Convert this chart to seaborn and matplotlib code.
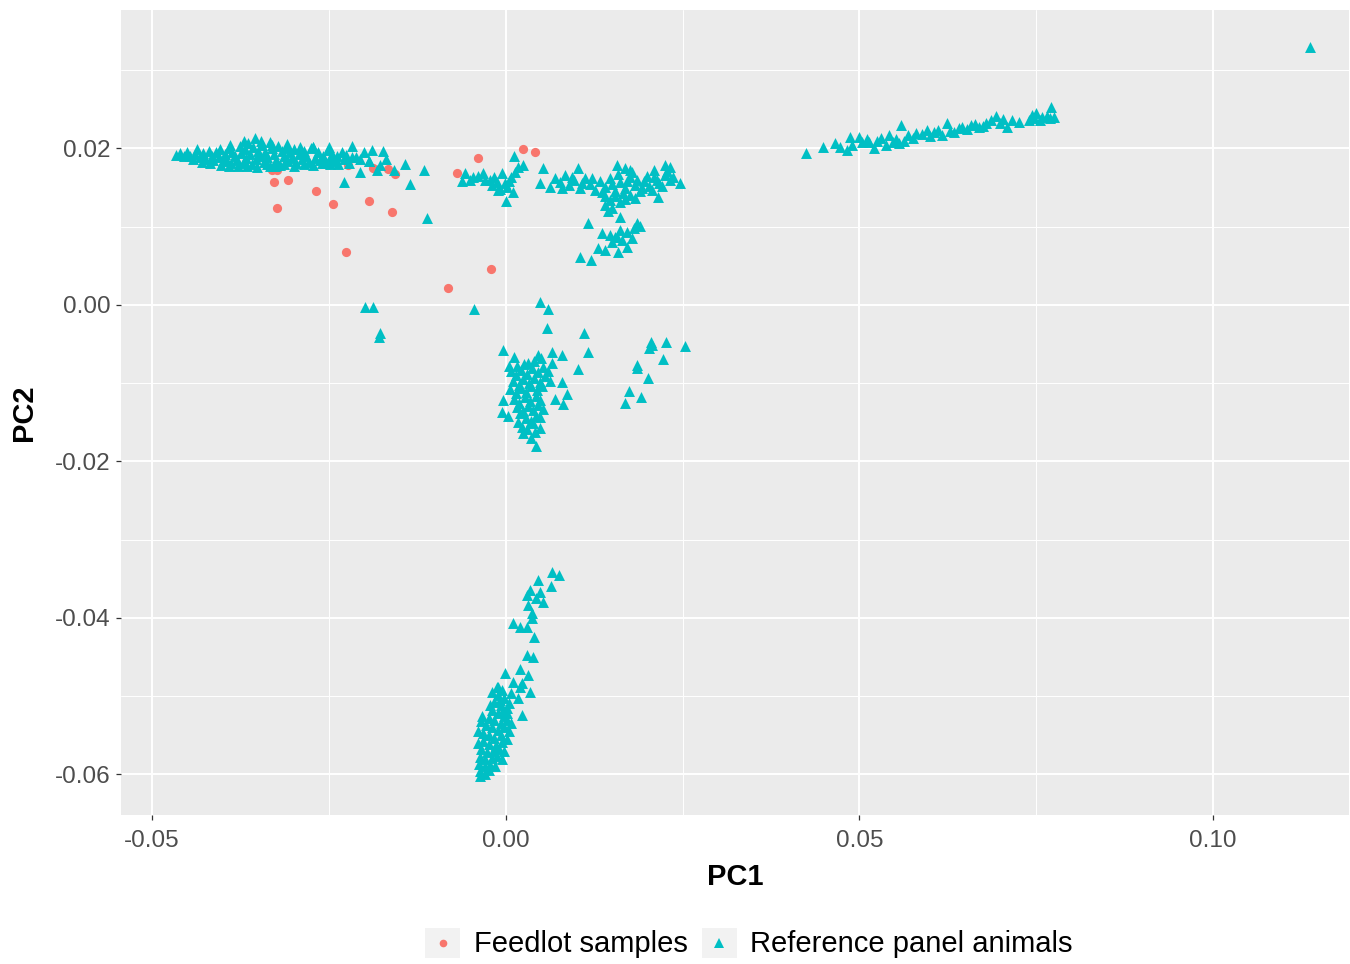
import matplotlib
matplotlib.use("Agg")
import matplotlib.pyplot as plt
import seaborn as sns
import pandas as pd
from matplotlib.lines import Line2D
from matplotlib.patches import Rectangle
from matplotlib.legend_handler import HandlerBase
from matplotlib.ticker import FixedLocator

# ---------------- data (PC1, PC2) ----------------
feedlot_pc1 = [-0.0331, -0.0323, -0.0328, -0.0308, -0.0268, -0.0323, -0.0244, -0.0226,
               -0.0223, -0.0194, -0.0188, -0.0167, -0.0161, -0.0157, -0.0069, -0.0040,
               0.0025, 0.0041, -0.0021, -0.0082]
feedlot_pc2 = [0.0173, 0.0173, 0.0157, 0.0160, 0.0146, 0.0124, 0.0129, 0.0068,
               0.0179, 0.0133, 0.0175, 0.0174, 0.0119, 0.0167, 0.0169, 0.0188,
               0.0199, 0.0196, 0.0046, 0.0022]

ref_west = [
    (-0.0466, 0.0192), (-0.0460, 0.0194), (-0.0455, 0.0190), (-0.0450, 0.0196), (-0.0446, 0.0191),
    (-0.0440, 0.0193), (-0.0436, 0.0199), (-0.0432, 0.0189), (-0.0428, 0.0194), (-0.0425, 0.0187),
    (-0.0420, 0.0197), (-0.0416, 0.0191), (-0.0414, 0.0185), (-0.0410, 0.0195), (-0.0406, 0.0189),
    (-0.0404, 0.0199), (-0.0400, 0.0184), (-0.0397, 0.0193), (-0.0395, 0.0187), (-0.0391, 0.0201),
    (-0.0389, 0.0182), (-0.0387, 0.0196), (-0.0383, 0.0190), (-0.0380, 0.0185), (-0.0376, 0.0203),
    (-0.0374, 0.0194), (-0.0371, 0.0182), (-0.0369, 0.0199), (-0.0367, 0.0188), (-0.0364, 0.0207),
    (-0.0362, 0.0193), (-0.0359, 0.0180), (-0.0357, 0.0202), (-0.0355, 0.0213), (-0.0353, 0.0186),
    (-0.0350, 0.0197), (-0.0348, 0.0191), (-0.0345, 0.0204), (-0.0342, 0.0183), (-0.0340, 0.0196),
    (-0.0337, 0.0189), (-0.0334, 0.0208), (-0.0333, 0.0178), (-0.0331, 0.0200), (-0.0328, 0.0193),
    (-0.0325, 0.0185), (-0.0322, 0.0203), (-0.0319, 0.0179), (-0.0317, 0.0197), (-0.0314, 0.0190),
    (-0.0311, 0.0201), (-0.0308, 0.0184), (-0.0305, 0.0195), (-0.0302, 0.0188), (-0.0299, 0.0199),
    (-0.0296, 0.0181), (-0.0293, 0.0193), (-0.0291, 0.0202), (-0.0288, 0.0187), (-0.0285, 0.0197),
    (-0.0282, 0.0191), (-0.0278, 0.0183), (-0.0275, 0.0200), (-0.0273, 0.0202), (-0.0270, 0.0188),
    (-0.0266, 0.0196), (-0.0262, 0.0185), (-0.0259, 0.0191), (-0.0256, 0.0181), (-0.0252, 0.0198),
    (-0.0249, 0.0188), (-0.0246, 0.0193), (-0.0242, 0.0184), (-0.0239, 0.0190), (-0.0237, 0.0180),
    (-0.0232, 0.0196), (-0.0229, 0.0186), (-0.0226, 0.0192), (-0.0222, 0.0182), (-0.0217, 0.0203),
    (-0.0212, 0.0189), (-0.0206, 0.0187), (-0.0200, 0.0195), (-0.0193, 0.0184), (-0.0189, 0.0198),
    (-0.0182, 0.0173), (-0.0178, 0.0179), (-0.0174, 0.0197), (-0.0170, 0.0186), (-0.0158, 0.0173),
    (-0.0143, 0.0180), (-0.0136, 0.0155), (-0.0116, 0.0173), (-0.0112, 0.0111), (-0.0229, 0.0157),
    (-0.0206, 0.0170), (-0.0193, 0.0184), (-0.0273, 0.0202), (-0.0217, 0.0189),
    (-0.0442, 0.0186), (-0.0430, 0.0183), (-0.0418, 0.0181), (-0.0402, 0.0179), (-0.0392, 0.0178),
    (-0.0378, 0.0177), (-0.0366, 0.0178), (-0.0352, 0.0176), (-0.0338, 0.0180), (-0.0326, 0.0177),
    (-0.0314, 0.0180), (-0.0300, 0.0178), (-0.0286, 0.0180), (-0.0272, 0.0179), (-0.0260, 0.0182),
    (-0.0248, 0.0180), (-0.0390, 0.0204), (-0.0370, 0.0210), (-0.0346, 0.0209), (-0.0330, 0.0205),
    (-0.0310, 0.0206), (-0.0250, 0.0202),
    (-0.0199, -0.0003), (-0.0188, -0.0003), (-0.0178, -0.0036), (-0.0179, -0.0041),
]

ref_centre = [
    (-0.0062, 0.0158), (-0.0058, 0.0169), (-0.0047, 0.0164), (-0.0032, 0.0169), (-0.0023, 0.0160),
    (-0.0016, 0.0164), (-0.0011, 0.0147), (0.0001, 0.0151), (0.0008, 0.0164), (0.0011, 0.0190),
    (0.0017, 0.0176), (0.0024, 0.0179), (0.0010, 0.0144), (0.0000, 0.0133), (-0.0040, 0.0165),
    (-0.0030, 0.0160), (-0.0008, 0.0148), (-0.0001, 0.0156), (0.0004, 0.0158), (-0.0051, 0.0160),
    (-0.0006, 0.0169), (0.0013, 0.0170), (-0.0020, 0.0153), (-0.0013, 0.0157), (-0.0045, -0.0005),
]

ref_east = [
    (0.0052, 0.0175), (0.0102, 0.0175), (0.0048, 0.0156), (0.0062, 0.0151), (0.0246, 0.0156),
    (0.0215, 0.0138), (0.0116, 0.0105), (0.0161, 0.0112),
    (0.0069, 0.0162), (0.0076, 0.0157), (0.0083, 0.0166), (0.0090, 0.0153), (0.0097, 0.0160),
    (0.0105, 0.0150), (0.0112, 0.0162), (0.0119, 0.0155), (0.0126, 0.0147), (0.0133, 0.0158),
    (0.0140, 0.0151), (0.0147, 0.0162), (0.0154, 0.0145), (0.0161, 0.0157), (0.0168, 0.0150),
    (0.0175, 0.0164), (0.0182, 0.0153), (0.0189, 0.0146), (0.0196, 0.0159), (0.0203, 0.0152),
    (0.0210, 0.0163), (0.0217, 0.0156), (0.0225, 0.0166), (0.0232, 0.0160),
    (0.0080, 0.0150), (0.0094, 0.0164), (0.0108, 0.0156), (0.0122, 0.0162), (0.0136, 0.0144),
    (0.0150, 0.0155), (0.0158, 0.0168), (0.0165, 0.0143), (0.0172, 0.0158), (0.0179, 0.0170),
    (0.0186, 0.0160), (0.0193, 0.0150), (0.0200, 0.0165), (0.0207, 0.0147), (0.0214, 0.0160),
    (0.0221, 0.0152), (0.0228, 0.0171), (0.0236, 0.0164),
    (0.0157, 0.0179), (0.0168, 0.0175), (0.0175, 0.0172), (0.0210, 0.0173), (0.0225, 0.0179),
    (0.0232, 0.0176),
    (0.0140, 0.0139), (0.0147, 0.0134), (0.0154, 0.0139), (0.0161, 0.0131), (0.0168, 0.0136),
    (0.0140, 0.0128), (0.0150, 0.0124), (0.0175, 0.0140), (0.0182, 0.0137), (0.0145, 0.0120),
    (0.0136, 0.0092), (0.0147, 0.0089), (0.0157, 0.0087), (0.0171, 0.0093), (0.0185, 0.0105),
    (0.0179, 0.0086), (0.0171, 0.0074), (0.0158, 0.0068), (0.0140, 0.0070), (0.0105, 0.0061),
    (0.0121, 0.0058), (0.0154, 0.0087), (0.0161, 0.0096), (0.0164, 0.0083), (0.0150, 0.0081),
    (0.0181, 0.0098), (0.0189, 0.0101), (0.0130, 0.0073),
]

ref_south = [
    (0.0049, 0.0004), (0.0059, -0.0005), (0.0058, -0.0029), (0.0110, -0.0036), (0.0116, -0.0060),
    (0.0102, -0.0082), (-0.0004, -0.0058), (0.0011, -0.0066), (0.0004, -0.0078), (0.0016, -0.0078),
    (0.0032, -0.0074), (0.0045, -0.0064), (0.0065, -0.0060), (0.0079, -0.0064), (0.0066, -0.0074),
    (0.0079, -0.0098), (0.0086, -0.0114), (0.0069, -0.0120), (0.0081, -0.0127), (-0.0004, -0.0121),
    (-0.0006, -0.0137), (0.0003, -0.0142), (0.0020, -0.0138), (0.0048, -0.0143), (0.0023, -0.0156),
    (0.0038, -0.0151), (0.0048, -0.0157), (0.0024, -0.0164), (0.0035, -0.0170), (0.0042, -0.0180),
    (0.0008, -0.0085), (0.0015, -0.0090), (0.0022, -0.0083), (0.0030, -0.0088), (0.0037, -0.0080),
    (0.0045, -0.0086), (0.0052, -0.0079), (0.0010, -0.0097), (0.0018, -0.0102), (0.0025, -0.0095),
    (0.0033, -0.0100), (0.0040, -0.0093), (0.0048, -0.0098), (0.0055, -0.0091), (0.0006, -0.0108),
    (0.0014, -0.0113), (0.0021, -0.0106), (0.0029, -0.0111), (0.0036, -0.0104), (0.0044, -0.0109),
    (0.0051, -0.0103), (0.0012, -0.0120), (0.0019, -0.0125), (0.0027, -0.0118), (0.0034, -0.0123),
    (0.0042, -0.0116), (0.0049, -0.0121), (0.0016, -0.0131), (0.0024, -0.0136), (0.0031, -0.0129),
    (0.0038, -0.0134), (0.0045, -0.0128), (0.0053, -0.0133), (0.0028, -0.0145), (0.0035, -0.0148),
    (0.0043, -0.0142), (0.0017, -0.0150), (0.0030, -0.0158), (0.0041, -0.0162), (0.0059, -0.0085),
    (0.0062, -0.0097), (0.0026, -0.0076), (0.0040, -0.0072), (0.0050, -0.0068),
    (0.0205, -0.0047), (0.0226, -0.0047), (0.0253, -0.0052), (0.0203, -0.0055), (0.0222, -0.0069),
    (0.0185, -0.0077), (0.0201, -0.0093), (0.0174, -0.0110), (0.0191, -0.0118), (0.0168, -0.0125),
    (0.0186, -0.0081), (0.0207, -0.0051),
]

ref_deep = [
    (0.0066, -0.0341), (0.0075, -0.0345), (0.0045, -0.0351), (0.0064, -0.0359), (0.0048, -0.0367),
    (0.0052, -0.0380), (0.0030, -0.0371), (0.0031, -0.0383), (0.0037, -0.0394), (0.0037, -0.0400),
    (0.0010, -0.0406), (0.0020, -0.0412), (0.0030, -0.0412), (0.0040, -0.0424), (0.0030, -0.0447),
    (0.0038, -0.0450), (-0.0001, -0.0470), (0.0020, -0.0466), (0.0031, -0.0473), (0.0010, -0.0482),
    (0.0023, -0.0483), (0.0034, -0.0495), (0.0020, -0.0489), (0.0008, -0.0496), (0.0017, -0.0502),
    (0.0023, -0.0524), (-0.0011, -0.0489), (-0.0020, -0.0495), (-0.0023, -0.0511), (0.0001, -0.0521),
    (-0.0008, -0.0505), (0.0034, -0.0364), (0.0042, -0.0375),
    (-0.0011, -0.0498), (-0.0003, -0.0502), (-0.0016, -0.0508), (-0.0007, -0.0511), (0.0001, -0.0515),
    (-0.0020, -0.0518), (-0.0011, -0.0521), (-0.0003, -0.0525), (-0.0024, -0.0528), (-0.0016, -0.0531),
    (-0.0007, -0.0534), (0.0001, -0.0530), (-0.0028, -0.0537), (-0.0020, -0.0540), (-0.0011, -0.0543),
    (-0.0003, -0.0540), (-0.0032, -0.0547), (-0.0024, -0.0550), (-0.0016, -0.0553), (-0.0007, -0.0550),
    (-0.0032, -0.0558), (-0.0024, -0.0561), (-0.0014, -0.0562), (-0.0005, -0.0559), (-0.0035, -0.0568),
    (-0.0027, -0.0571), (-0.0018, -0.0570), (-0.0009, -0.0567), (-0.0037, -0.0578), (-0.0029, -0.0581),
    (-0.0020, -0.0579), (-0.0012, -0.0576), (-0.0038, -0.0587), (-0.0030, -0.0590), (-0.0022, -0.0588),
    (-0.0037, -0.0596), (-0.0030, -0.0599), (-0.0024, -0.0595), (-0.0037, -0.0602), (-0.0005, -0.0520),
    (0.0004, -0.0509), (-0.0013, -0.0489), (-0.0006, -0.0492),
    (-0.0040, -0.0560), (-0.0039, -0.0545), (-0.0035, -0.0532), (0.0004, -0.0545), (0.0002, -0.0555),
    (-0.0002, -0.0570), (-0.0006, -0.0580), (-0.0015, -0.0590), (0.0008, -0.0535), (-0.0033, -0.0525),
]

ref_arm = [
    (0.0425, 0.0194), (0.0448, 0.0202), (0.0465, 0.0207), (0.0472, 0.0202), (0.0483, 0.0198),
    (0.0486, 0.0215), (0.0500, 0.0215), (0.0503, 0.0208), (0.0514, 0.0208), (0.0521, 0.0201),
    (0.0531, 0.0213), (0.0542, 0.0217), (0.0547, 0.0208), (0.0559, 0.0230), (0.0556, 0.0207),
    (0.0568, 0.0217), (0.0580, 0.0220), (0.0595, 0.0224), (0.0606, 0.0221), (0.0616, 0.0217),
    (0.0624, 0.0233), (0.0634, 0.0221), (0.0645, 0.0227), (0.0658, 0.0230), (0.0669, 0.0227),
    (0.0679, 0.0233), (0.0693, 0.0242), (0.0698, 0.0233), (0.0709, 0.0227), (0.0716, 0.0236),
    (0.0726, 0.0234), (0.0747, 0.0239), (0.0750, 0.0245), (0.0758, 0.0240), (0.0771, 0.0253),
    (0.0775, 0.0240),
    (0.0490, 0.0205), (0.0510, 0.0212), (0.0525, 0.0210), (0.0537, 0.0205), (0.0552, 0.0212),
    (0.0563, 0.0210), (0.0575, 0.0214), (0.0588, 0.0218), (0.0600, 0.0216), (0.0611, 0.0224),
    (0.0628, 0.0222), (0.0640, 0.0226), (0.0652, 0.0225), (0.0663, 0.0231), (0.0675, 0.0229),
    (0.0686, 0.0236), (0.0703, 0.0238), (0.0740, 0.0236), (0.0755, 0.0237), (0.0765, 0.0241),
    (0.0744, 0.0243), (0.0770, 0.0239),
    (0.1137, 0.0330),
]

groups = ["Feedlot samples", "Reference panel animals"]
colors = ["#F8766D", "#00BFC4"]
x_ticks = [-0.05, 0.00, 0.05, 0.10]
x_tick_labels = ["-0.05", "0.00", "0.05", "0.10"]
y_ticks = [-0.06, -0.04, -0.02, 0.00, 0.02]
y_tick_labels = ["-0.06", "-0.04", "-0.02", "0.00", "0.02"]
x_minor = [-0.025, 0.025, 0.075]
y_minor = [-0.05, -0.03, -0.01, 0.01, 0.03]

# ---------------- build frame ----------------
ref_points = ref_west + ref_centre + ref_east + ref_south + ref_deep + ref_arm
df = pd.concat([
    pd.DataFrame({"PC1": feedlot_pc1, "PC2": feedlot_pc2, "group": groups[0]}),
    pd.DataFrame({"PC1": [p[0] for p in ref_points], "PC2": [p[1] for p in ref_points],
                  "group": groups[1]}),
], ignore_index=True)

# ---------------- style ----------------
sns.set_theme(style="darkgrid")
plt.rcParams["font.family"] = ["Liberation Sans", "DejaVu Sans"]

fig = plt.figure(figsize=(13.5, 9.64), dpi=100)
ax = fig.add_axes([121 / 1350, 1 - 815 / 964, (1349 - 121) / 1350, (815 - 10) / 964])
ax.set_facecolor("#EBEBEB")

sns.scatterplot(data=df[df.group == groups[0]], x="PC1", y="PC2", color=colors[0],
                marker="o", s=44, linewidth=0, ax=ax, legend=False, zorder=3)
sns.scatterplot(data=df[df.group == groups[1]], x="PC1", y="PC2", color=colors[1],
                marker="^", s=62, linewidth=0, ax=ax, legend=False, zorder=4)

ax.set_xlim(-0.0544, 0.1192)
ax.set_ylim(-0.0652, 0.0377)

ax.set_xticks(x_ticks)
ax.set_xticklabels(x_tick_labels)
ax.set_yticks(y_ticks)
ax.set_yticklabels(y_tick_labels)
ax.xaxis.set_minor_locator(FixedLocator(x_minor))
ax.yaxis.set_minor_locator(FixedLocator(y_minor))

ax.grid(which="major", color="white", linewidth=1.4)
ax.grid(which="minor", color="white", linewidth=0.7)
ax.set_axisbelow(True)
for s in ax.spines.values():
    s.set_visible(False)

ax.tick_params(axis="both", which="major", labelsize=17.5, labelcolor="#4D4D4D",
               color="#333333", length=3.5, width=0.9, direction="out", pad=4)
ax.tick_params(axis="x", which="major", pad=7)
ax.tick_params(axis="both", which="minor", length=0)
ax.tick_params(axis="x", which="major", bottom=True)
ax.tick_params(axis="y", which="major", left=True)

ax.set_xlabel("PC1", fontsize=21, fontweight="bold", color="black", labelpad=8)
ax.set_ylabel("PC2", fontsize=21, fontweight="bold", color="black", labelpad=12)


class KeyHandler(HandlerBase):
    def create_artists(self, legend, orig_handle, xdescent, ydescent, width, height,
                       fontsize, trans):
        bg = Rectangle((-xdescent, -ydescent), width, height, facecolor="#F2F2F2",
                       edgecolor="none", transform=trans)
        m = Line2D([width / 2 - xdescent], [height / 2 - ydescent],
                   marker=orig_handle.get_marker(), color=orig_handle.get_color(),
                   markersize=orig_handle.get_markersize(), linestyle="none",
                   markeredgewidth=0, transform=trans)
        return [bg, m]


handles = [
    Line2D([], [], marker="o", color=colors[0], markersize=5.5, linestyle="none"),
    Line2D([], [], marker="^", color=colors[1], markersize=6.5, linestyle="none"),
]
leg = fig.legend(handles, groups, loc="center", bbox_to_anchor=(749 / 1350, 1 - 943 / 964),
                 ncol=2, frameon=False, fontsize=21, handlelength=1.2, handleheight=1.2,
                 handletextpad=0.45, columnspacing=0.5,
                 handler_map={Line2D: KeyHandler()})
for t in leg.get_texts():
    t.set_color("black")

fig.savefig("out.png", dpi=100)
